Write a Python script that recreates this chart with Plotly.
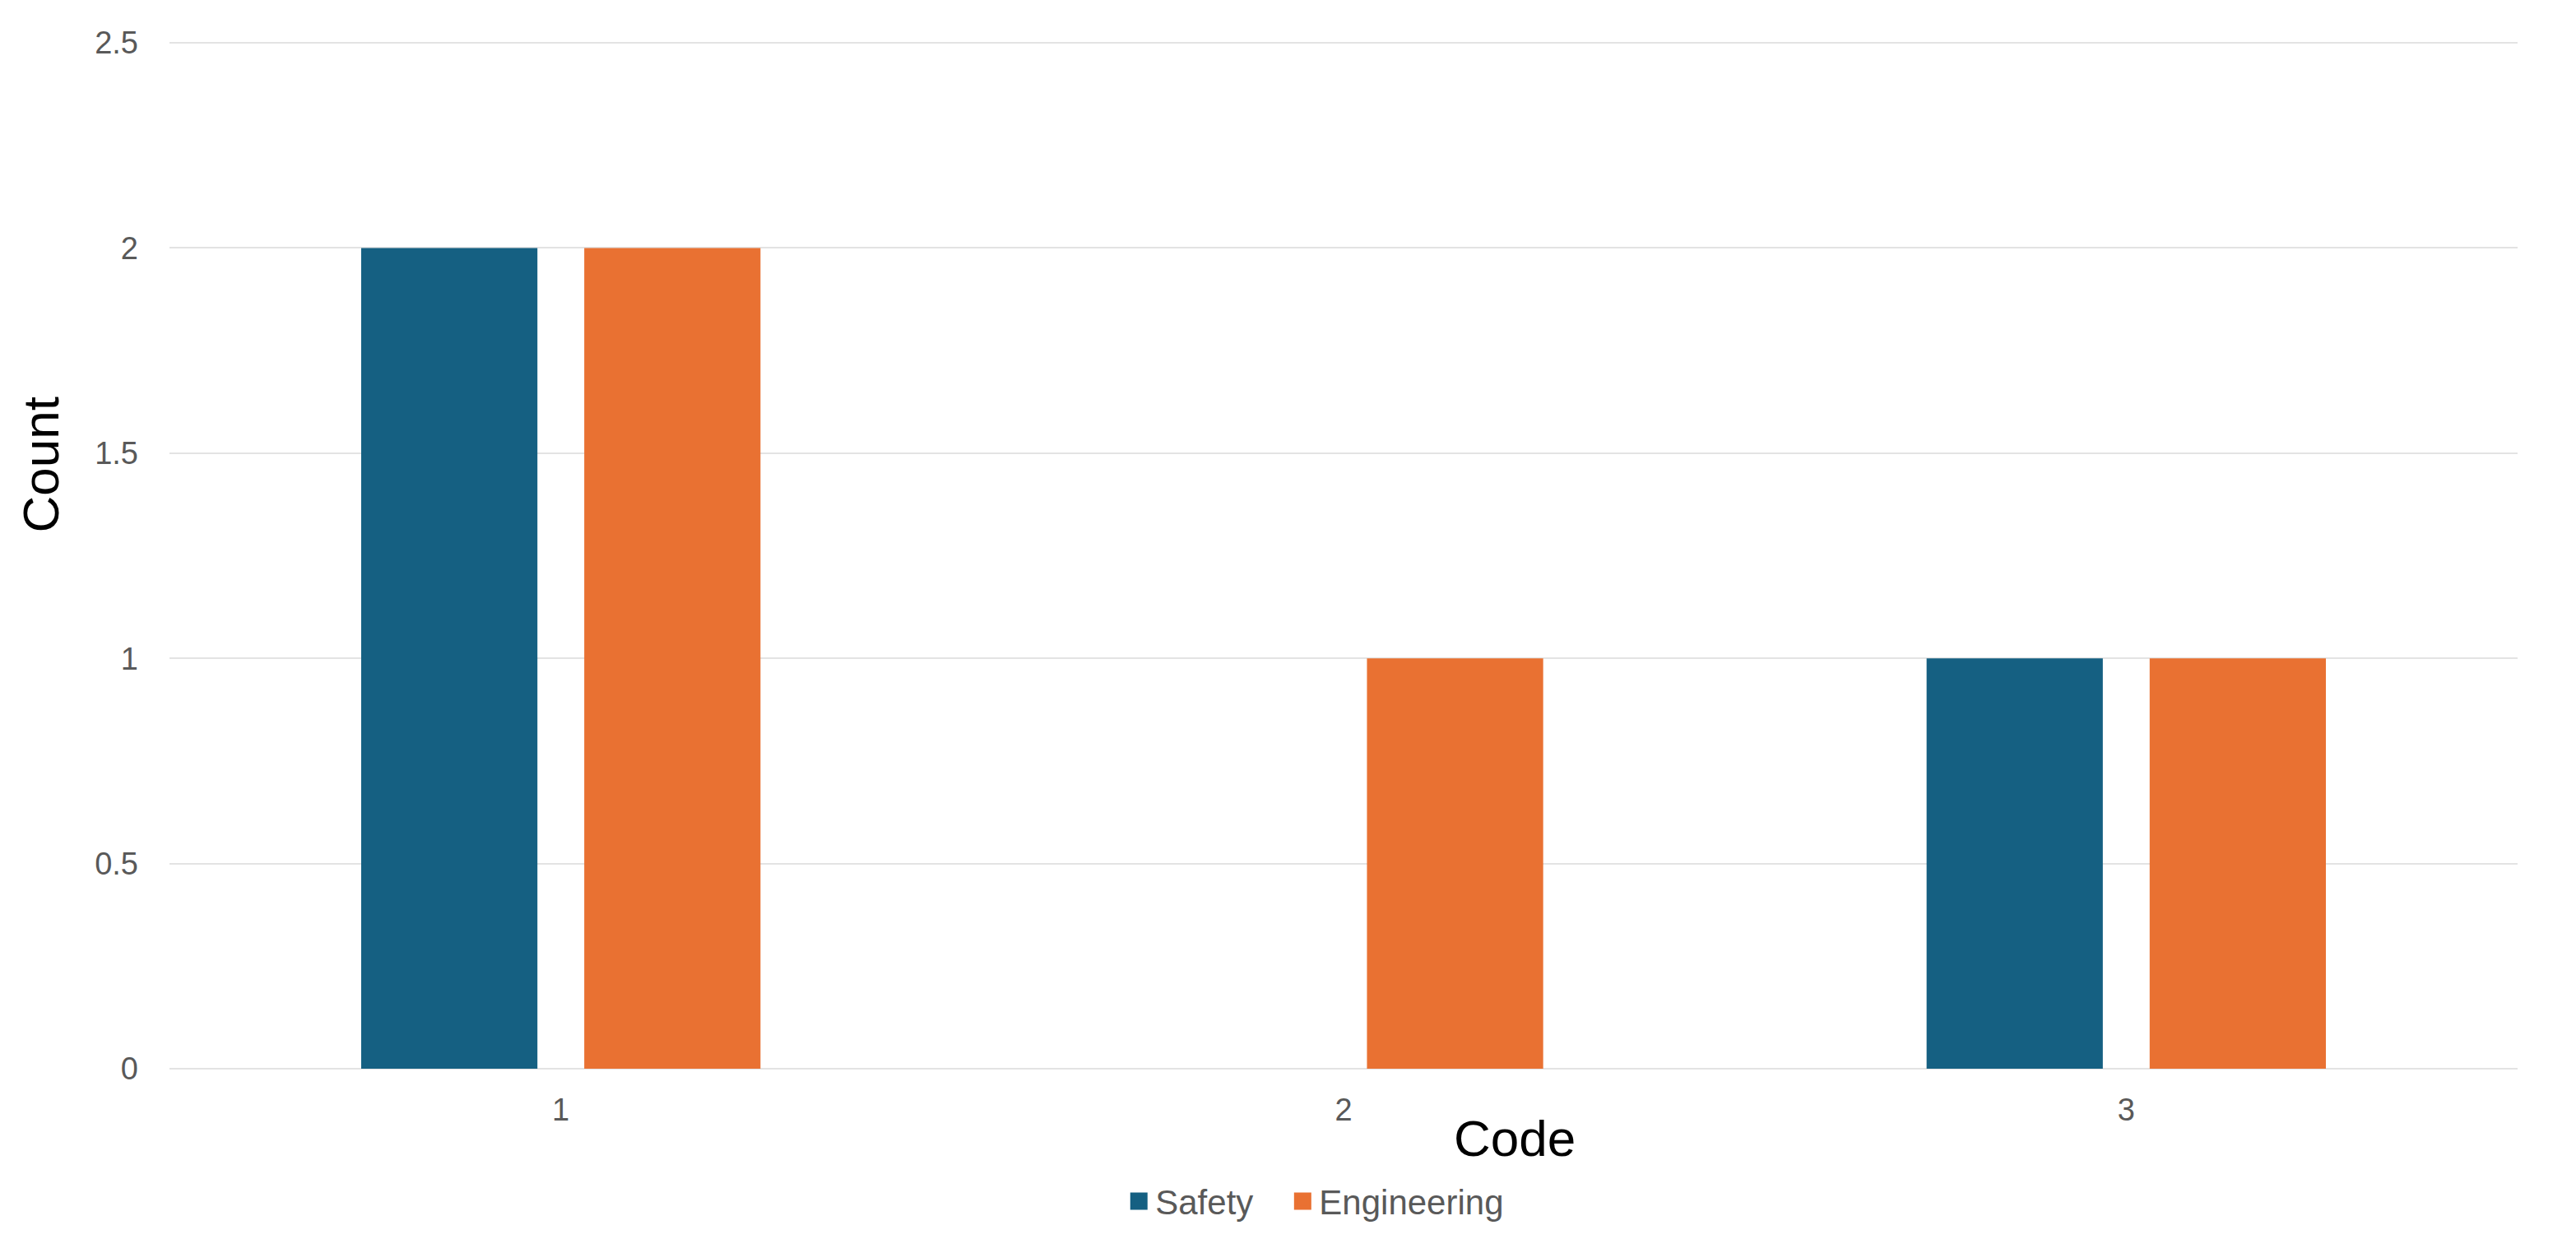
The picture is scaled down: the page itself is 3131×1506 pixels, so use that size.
import plotly.graph_objects as go

categories = ["1", "2", "3"]
safety = [2, 0, 1]
engineering = [2, 1, 1]
y_ticks = [0, 0.5, 1, 1.5, 2, 2.5]
y_tick_labels = ["0", "0.5", "1", "1.5", "2", "2.5"]
series_names = ["Safety", "Engineering"]
series_colors = ["#156082", "#E97132"]

FONT = "Liberation Sans, Arial, sans-serif"
# page body has an 8px default margin, so the figure is offset by 8px
W, H = 3123, 1498
L, R, T, B = 198, 71, 42, 202

fig = go.Figure()
for name, vals, col in zip(series_names, [safety, engineering], series_colors):
    fig.add_trace(go.Bar(name=name, x=categories, y=vals, showlegend=False,
                         marker=dict(color=col, line=dict(width=0))))
# legend-only entries with larger square swatches
legend_labels = [series_names[0] + "\u00a0\u00a0\u00a0", series_names[1]]
for name, col in zip(legend_labels, series_colors):
    fig.add_trace(go.Scatter(name=name, x=[None], y=[None], mode="markers",
                             marker=dict(symbol="square", size=16, color=col,
                                         line=dict(color=col, width=5)),
                             showlegend=True))

fig.update_layout(
    width=W, height=H,
    margin=dict(l=L, r=R, t=T, b=B, pad=0),
    paper_bgcolor="white", plot_bgcolor="white",
    barmode="group", bargap=0.43, bargroupgap=0.21,
    font=dict(family=FONT, size=38, color="#595959"),
    showlegend=True,
    legend=dict(orientation="h", x=0.488, xanchor="center", y=-0.129, yanchor="middle",
                font=dict(family=FONT, size=42, color="#595959"),
                itemwidth=30, tracegroupgap=0, bgcolor="rgba(0,0,0,0)"),
    xaxis=dict(type="category", showgrid=False, zeroline=False, showline=False,
               ticks="", ticklabelstandoff=24,
               tickfont=dict(family=FONT, size=38, color="#595959")),
    yaxis=dict(range=[0, 2.504], tickvals=y_ticks, ticktext=y_tick_labels,
               showgrid=True, gridcolor="#E3E3E3", gridwidth=2,
               zeroline=True, zerolinecolor="#E3E3E3", zerolinewidth=2,
               showline=False, ticks="", ticklabelstandoff=37,
               tickfont=dict(family=FONT, size=38, color="#595959")),
    annotations=[
        dict(text="Code", xref="paper", yref="paper", x=0.573, y=-0.068,
             xanchor="center", yanchor="middle", showarrow=False,
             font=dict(family=FONT, size=62, color="#000000")),
        dict(text="Count", xref="paper", yref="paper", x=-0.0547, y=0.588,
             xanchor="center", yanchor="middle", showarrow=False, textangle=-90,
             font=dict(family=FONT, size=62, color="#000000")),
    ],
)

fig.write_html("out.html")
